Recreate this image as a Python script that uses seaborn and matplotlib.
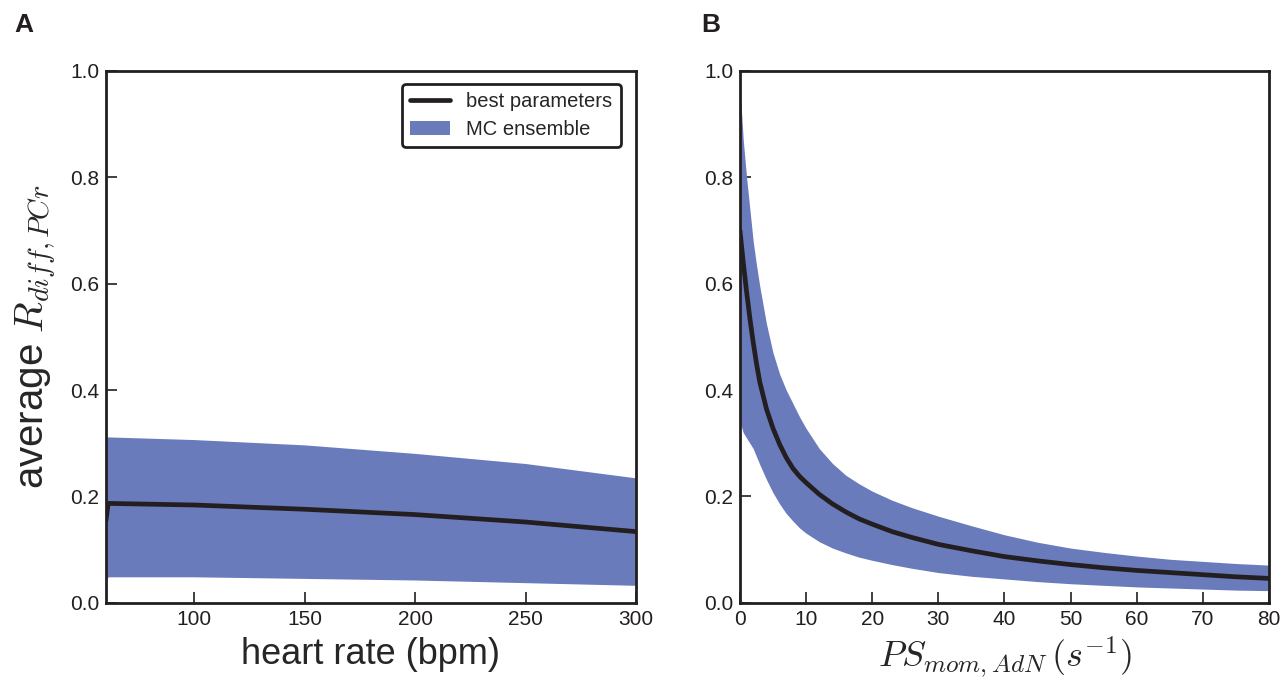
import numpy as np
import pandas as pd
import matplotlib
matplotlib.use("Agg")
import matplotlib.pyplot as plt
import seaborn as sns

sns.set_style("ticks")
plt.rcParams["font.family"] = ["Liberation Sans", "DejaVu Sans"]
plt.rcParams["mathtext.fontset"] = "cm"

# panel A: heart rate sweep
hr = [60, 61, 100, 150, 200, 250, 300]
hr_best = [0.155, 0.187, 0.184, 0.176, 0.166, 0.152, 0.134]
hr_low = [0.043, 0.049, 0.049, 0.046, 0.043, 0.038, 0.033]
hr_high = [0.312, 0.312, 0.307, 0.297, 0.281, 0.262, 0.235]

# panel B: PS_mom,AdN sweep
ps = [0, 0.25, 0.5, 1, 1.5, 2, 2.5, 3, 4, 5, 6, 7, 8, 9, 10, 12, 14, 16, 18,
      20, 23, 26, 30, 35, 40, 45, 50, 55, 60, 65, 70, 75, 80]
ps_best = [0.70, 0.67, 0.64, 0.585, 0.535, 0.49, 0.45, 0.415, 0.365, 0.328,
           0.298, 0.273, 0.253, 0.238, 0.226, 0.204, 0.186, 0.171, 0.158,
           0.148, 0.134, 0.123, 0.110, 0.098, 0.087, 0.079, 0.072, 0.066,
           0.061, 0.057, 0.053, 0.049, 0.046]
ps_low = [0.34, 0.33, 0.32, 0.31, 0.30, 0.29, 0.275, 0.26, 0.232, 0.207,
          0.186, 0.168, 0.154, 0.141, 0.131, 0.115, 0.103, 0.094, 0.086,
          0.080, 0.072, 0.065, 0.057, 0.050, 0.045, 0.040, 0.036, 0.033,
          0.030, 0.028, 0.026, 0.024, 0.023]
ps_high = [0.96, 0.92, 0.87, 0.80, 0.74, 0.68, 0.635, 0.595, 0.525, 0.47,
           0.43, 0.40, 0.375, 0.35, 0.328, 0.29, 0.262, 0.24, 0.224, 0.21,
           0.193, 0.179, 0.163, 0.145, 0.128, 0.114, 0.103, 0.095, 0.088,
           0.082, 0.078, 0.074, 0.071]

band_color = "#6a7bbc"
line_color = "#231f20"

fig = plt.figure(figsize=(12.86, 6.89), dpi=100)
axA = fig.add_axes([0.0824, 0.125, 0.4121, 0.772])
axB = fig.add_axes([0.5754, 0.125, 0.4114, 0.772])

dfA = pd.DataFrame({"x": hr, "best": hr_best})
axA.fill_between(hr, hr_low, hr_high, color=band_color, lw=0, label="MC ensemble")
sns.lineplot(data=dfA, x="x", y="best", ax=axA, color=line_color, lw=3.4,
             label="best parameters")
axA.set_xlim(60, 300)
axA.set_xticks([100, 150, 200, 250, 300])
axA.set_xlabel("heart rate (bpm)", fontsize=26, labelpad=6)
axA.set_ylabel("average $R_{diff,PCr}$", fontsize=29, labelpad=8)

dfB = pd.DataFrame({"x": ps, "best": ps_best})
axB.fill_between(ps, ps_low, ps_high, color=band_color, lw=0)
sns.lineplot(data=dfB, x="x", y="best", ax=axB, color=line_color, lw=3.4)
axB.set_xlim(0, 80)
axB.set_xticks(range(0, 81, 10))
axB.set_xlabel(r"$PS_{mom,AdN}\,(s^{-1})$", fontsize=26, labelpad=4)
axB.set_ylabel("")

for ax in (axA, axB):
    ax.set_ylim(0, 1.0)
    ax.set_yticks([0.0, 0.2, 0.4, 0.6, 0.8, 1.0])
    ax.tick_params(direction="in", length=8, width=1.2, labelsize=15, pad=5,
                   top=False, right=False, colors=line_color)
    for s in ax.spines.values():
        s.set_linewidth(2)
        s.set_color(line_color)

handles, labels = axA.get_legend_handles_labels()
order = [labels.index("best parameters"), labels.index("MC ensemble")]
leg = axA.legend([handles[i] for i in order], [labels[i] for i in order],
                 loc="upper right", fontsize=14.5, frameon=True, fancybox=True,
                 handlelength=2.0, borderpad=0.4, labelspacing=0.45,
                 bbox_to_anchor=(0.99, 0.995))
leg.get_frame().set_edgecolor(line_color)
leg.get_frame().set_linewidth(2)
leg.get_frame().set_alpha(1)

fig.text(0.011, 0.953, "A", fontsize=19, fontweight="bold", color=line_color)
fig.text(0.545, 0.953, "B", fontsize=19, fontweight="bold", color=line_color)

fig.savefig("out.png", dpi=100)
